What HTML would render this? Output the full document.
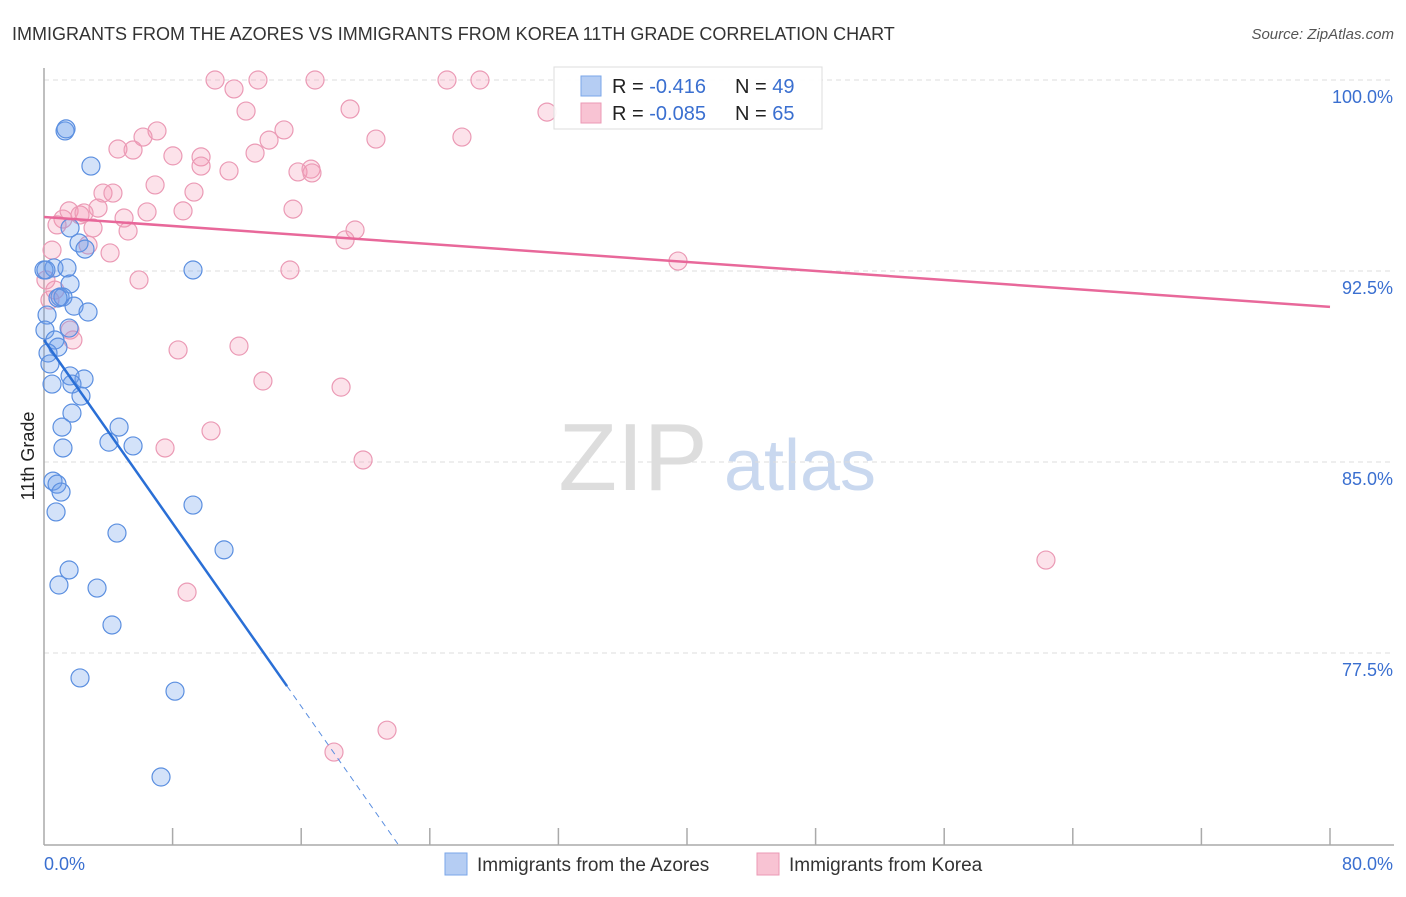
<!DOCTYPE html>
<html><head><meta charset="utf-8"><style>
body{margin:0;background:#fff;font-family:"Liberation Sans",sans-serif;}
svg text{font-family:"Liberation Sans",sans-serif;}
</style></head><body>
<svg id="chart" width="1406" height="892" xmlns="http://www.w3.org/2000/svg">
<text x="12" y="40" font-size="18" fill="#333">IMMIGRANTS FROM THE AZORES VS IMMIGRANTS FROM KOREA 11TH GRADE CORRELATION CHART</text>
<text x="1394" y="39" font-size="15" fill="#555" text-anchor="end" font-style="italic">Source: ZipAtlas.com</text>
<text x="34" y="456" font-size="18" fill="#222" text-anchor="middle" transform="rotate(-90 34 456)">11th Grade</text>
<g>
<text x="633" y="490" font-size="96" fill="#ddd" font-family="Liberation Serif" text-anchor="middle" font-family="Liberation Serif,serif">ZIP</text>
<text x="800" y="490" font-size="72" fill="#c9d8ef" text-anchor="middle">atlas</text>
</g>
<g id="grid"></g><g id="axes"></g><g id="pts"></g><g id="lines"></g>
<g>
<rect x="554" y="67" width="268" height="62" fill="#fff" fill-opacity="0.9" stroke="#ddd"/>
<rect x="581" y="76" width="20" height="20" fill="#b5cdf3" stroke="#7aa6e8"/>
<text x="612" y="93" font-size="20" fill="#222">R = <tspan fill="#3a6fd0"> -0.416</tspan>   <tspan x="735">N = </tspan><tspan fill="#3a6fd0">49</tspan></text>
<rect x="581" y="103" width="20" height="20" fill="#f8c3d3" stroke="#eb9ab5"/>
<text x="612" y="120" font-size="20" fill="#222">R = <tspan fill="#3a6fd0">-0.085</tspan>   <tspan x="735">N = </tspan><tspan fill="#3a6fd0">65</tspan></text>
</g>
<g>
<rect x="445" y="853" width="22" height="22" fill="#b5cdf3" stroke="#7aa6e8"/>
<text x="477" y="871" font-size="19" fill="#333">Immigrants from the Azores</text>
<rect x="757" y="853" width="22" height="22" fill="#f8c3d3" stroke="#eb9ab5"/>
<text x="789" y="871" font-size="19" fill="#333">Immigrants from Korea</text>
</g>
</svg>
<script>
const yTicks=[100,92.5,85,77.5];
const yTickLabels=["100.0%","92.5%","85.0%","77.5%"];
const xEndLabels=["0.0%","80.0%"];
const blueX=[1.31,1.37,2.92,1.62,2.18,2.55,0.62,1.43,0,9.27,1.62,1.0,1.18,1.87,2.74,0.19,1.56,0.06,0.68,0.87,0.25,0.37,0.5,1.62,2.49,1.74,2.3,1.74,1.12,4.67,1.18,4.04,5.54,0.56,0.81,1.06,9.27,0.75,4.54,11.2,1.56,0.93,3.3,4.23,2.24,8.15,7.28,0.12,0.87];
const blueY=[98.0,98.08,96.62,94.19,93.6,93.36,92.62,92.62,92.54,92.54,91.99,91.48,91.48,91.12,90.89,90.77,90.26,90.18,89.79,89.51,89.28,88.85,88.06,88.38,88.26,88.06,87.59,86.92,86.37,86.37,85.55,85.78,85.63,84.25,84.13,83.82,83.31,83.04,82.21,81.55,80.76,80.17,80.05,78.6,76.52,76.0,72.63,92.54,91.44];
const pinkX=[10.64,13.31,16.86,25.07,27.12,11.82,12.57,19.04,31.29,20.65,26.0,7.03,6.16,14.93,14.0,4.6,5.54,8.02,9.77,13.13,9.77,11.51,15.8,16.61,16.67,6.91,3.67,4.29,9.33,1.18,1.56,3.36,2.24,2.49,4.98,6.41,8.65,15.49,3.05,5.23,19.35,18.73,0.5,2.74,4.11,15.3,39.44,5.91,0.68,1.8,8.34,12.13,13.62,18.48,10.39,7.53,19.85,62.33,8.9,21.34,18.04,0.81,0.12,1.62,0.37];
const pinkY=[100,100,100,100,100,99.65,98.78,98.86,98.74,97.68,97.76,98.0,97.76,98.04,97.64,97.29,97.25,97.02,96.98,97.13,96.62,96.43,96.39,96.5,96.35,95.88,95.56,95.56,95.6,94.54,94.86,94.97,94.7,94.78,94.58,94.82,94.86,94.93,94.19,94.07,94.11,93.72,93.32,93.52,93.21,92.54,92.89,92.15,91.75,89.79,89.4,89.55,88.18,87.94,86.22,85.55,85.08,81.15,79.89,74.47,73.61,94.31,92.15,90.18,91.36];
const pinkTrend=[94.62,91.09]; // y at x=0 and x=80
const blueTrend=[89.79,-0.899]; // intercept, slope
const blueSolidEnd=15.12;
const NS="http://www.w3.org/2000/svg";
const X=v=>44+v/80*1286;
const Y=v=>80+(100-v)/30*764;
function mk(t,a,p){const e=document.createElementNS(NS,t);for(const k in a)e.setAttribute(k,a[k]);p.appendChild(e);return e;}
const grid=document.getElementById('grid'),axes=document.getElementById('axes');
yTicks.forEach((t,i)=>{
 const l=mk('line',{x1:44,x2:1394,y1:Y(t),y2:Y(t),stroke:'#ddd','stroke-dasharray':'5,4'},grid);
 
 
 const tx=mk('text',{x:1393,y:Y(t)+23,'font-size':18,fill:'#3a6fd0','text-anchor':'end'},axes);
 tx.textContent=yTickLabels[i];
 
 
});
const ya=mk('line',{x1:44,x2:44,y1:68,y2:845,stroke:'#aaa','stroke-width':1.5},axes);


const xa=mk('line',{x1:44,x2:1394,y1:845,y2:845,stroke:'#aaa','stroke-width':1.5},axes);


for(let v=8;v<=80;v+=8){const t=mk('line',{x1:X(v),x2:X(v),y1:828,y2:845,stroke:'#aaa','stroke-width':1.5},axes);
 
 }
const x0=mk('text',{x:44,y:870,'font-size':18,fill:'#3a6fd0'},axes);x0.textContent=xEndLabels[0];


const x1=mk('text',{x:1393,y:870,'font-size':18,fill:'#3a6fd0','text-anchor':'end'},axes);x1.textContent=xEndLabels[1];


const pts=document.getElementById('pts');
pinkX.forEach((x,i)=>{const c=mk('circle',{cx:X(x),cy:Y(pinkY[i]),r:9,fill:'rgba(244,150,180,0.28)',stroke:'#eb9ab5','stroke-width':1.2},pts);
 
 });
blueX.forEach((x,i)=>{const c=mk('circle',{cx:X(x),cy:Y(blueY[i]),r:9,fill:'rgba(110,160,235,0.3)',stroke:'#5b8fe0','stroke-width':1.2},pts);
 
 });
const lines=document.getElementById('lines');
const pl=mk('line',{x1:X(0),y1:Y(pinkTrend[0]),x2:X(80),y2:Y(pinkTrend[1]),stroke:'#e8689a','stroke-width':2.5},lines);


const bY=x=>blueTrend[0]+blueTrend[1]*x;
const bl=mk('line',{x1:X(0),y1:Y(bY(0)),x2:X(blueSolidEnd),y2:Y(bY(blueSolidEnd)),stroke:'#2a6fd6','stroke-width':2.5},lines);


const xEnd=(70-blueTrend[0])/blueTrend[1];
const bd=mk('line',{x1:X(blueSolidEnd),y1:Y(bY(blueSolidEnd)),x2:X(xEnd),y2:Y(70),stroke:'#5b8fe0','stroke-width':1,'stroke-dasharray':'6,5'},lines);


</script>
</body></html>
